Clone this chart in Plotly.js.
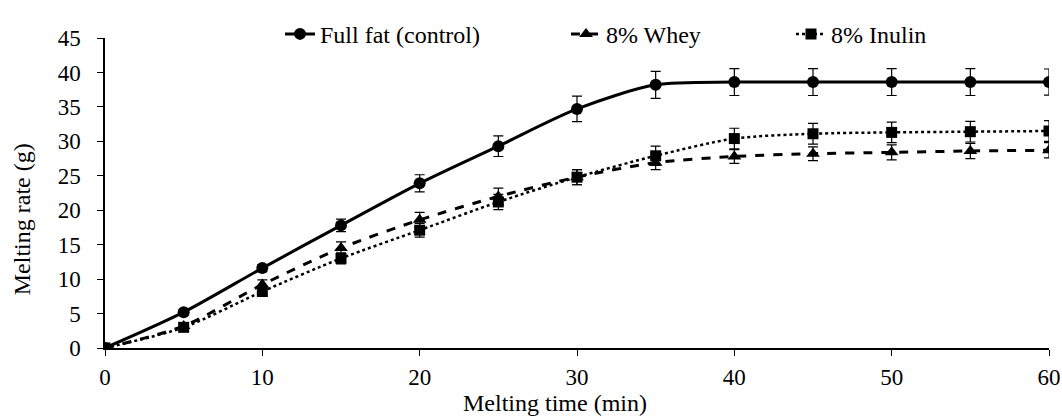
<!DOCTYPE html>
<html><head><meta charset="utf-8">
<script src="https://cdn.plot.ly/plotly-3.0.1.min.js"></script>
<style>
html,body{margin:0;padding:0;background:#fff}
#chart text{font-family:'Liberation Serif','Times New Roman',serif !important;}
</style>
</head><body>
<div id="chart" style="width:1062px;height:419px"></div>
<script>
const time = [0,5,10,15,20,25,30,35,40,45,50,55,60];
const fullFat = [0,5.2,11.6,17.8,23.9,29.3,34.7,38.2,38.6,38.6,38.6,38.6,38.6];
const fullFatErr = [0,0.4,0.5,0.9,1.25,1.5,1.85,1.95,1.95,1.95,1.95,1.95,1.9];
const whey = [0,3.2,9.2,14.5,18.6,22.0,24.8,26.9,27.8,28.2,28.4,28.6,28.7];
const wheyErr = [0,0.4,0.7,0.9,1.1,1.2,1.1,1.0,1.0,1.0,1.1,1.1,1.1];
const inulin = [0,3.0,8.2,13.0,17.1,21.2,24.8,27.9,30.4,31.1,31.3,31.4,31.5];
const inulinErr = [0,0.4,0.6,0.8,1.0,1.1,1.1,1.4,1.5,1.5,1.5,1.5,1.5];
const names = ['Full fat (control)','8% Whey','8% Inulin'];
const xTicks = [0,10,20,30,40,50,60];
const xTitle = 'Melting time (min)';
const yTitle = 'Melting rate (g)';

function mkFont(sz){ return {family:'Liberation Serif', size:sz}; }
// plot area pixels: left 105, right 1049, top 23, bottom 348
function px2x(p){ return (p-105)/944; }
function px2y(p){ return (348-p)/325; }

function tr(y, err, name, dash, symbol, msize, lw, leg){
  return {x: time, y: y, name: name, type:'scatter', mode:'lines+markers', legend: leg,
    line:{color:'#000', width:lw, dash:dash, shape:'spline', smoothing:0.8},
    marker:{color:'#000', symbol:symbol, size:msize},
    error_y:{type:'data', array: err, visible:true, color:'#000', thickness:1.2, width:5}};
}
const traces = [
  tr(fullFat, fullFatErr, names[0], 'solid', 'circle', 12, 3, 'legend'),
  tr(whey, wheyErr, names[1], 'dash', 'triangle-up', 12, 3, 'legend2'),
  tr(inulin, inulinErr, names[2], 'dot', 'square', 11, 2.5, 'legend3')
];
function leg(p){
  return {orientation:'h', x:px2x(p), xanchor:'left', y:1.012, yanchor:'middle',
    font:mkFont(24), bgcolor:'rgba(0,0,0,0)', borderwidth:0};
}
const lay = {
  width:1062, height:419,
  margin:{l:105, r:13, t:23, b:71},
  paper_bgcolor:'#fff', plot_bgcolor:'#fff',
  font:{color:'#000'},
  showlegend:true,
  legend: leg(280),
  legend2: leg(566),
  legend3: leg(791),
  xaxis:{range:[0,60], tickvals:xTicks, showline:true, linecolor:'#000', linewidth:1.5,
    ticks:'outside', ticklen:6, tickcolor:'#000', tickwidth:1.2, showgrid:false, zeroline:false,
    tickfont:mkFont(23), ticklabelstandoff:2},
  yaxis:{range:[0,45], dtick:5, showline:true, linecolor:'#000', linewidth:1.5,
    ticks:'outside', ticklen:6, tickcolor:'#000', tickwidth:1.2, showgrid:false, zeroline:false,
    tickfont:mkFont(23), ticklabelstandoff:12},
  annotations:[
    {xref:'paper', yref:'paper', x:px2x(555), y:px2y(406), xanchor:'center', yanchor:'middle',
     showarrow:false, text:xTitle, font:mkFont(24)},
    {xref:'paper', yref:'paper', x:px2x(22), y:px2y(213), xanchor:'center', yanchor:'middle',
     showarrow:false, text:yTitle, textangle:-90, font:mkFont(24)}
  ]
};
Plotly.newPlot('chart', traces, lay, {displayModeBar:false});
</script></body></html>
